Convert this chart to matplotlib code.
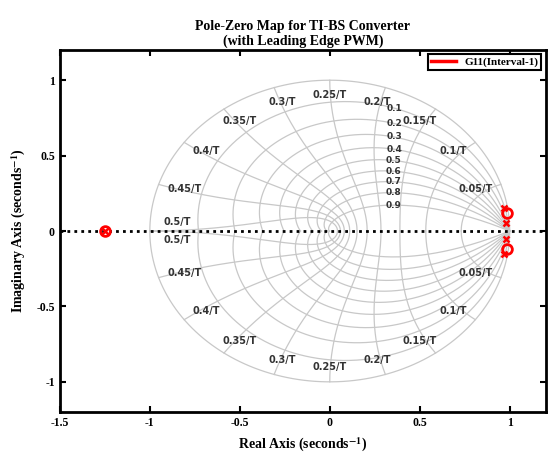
import numpy as np
import matplotlib.pyplot as plt
from matplotlib.lines import Line2D

# pole / zero locations
zero_re = [-1.25, 0.985, 0.985]
zero_im = [0.0, 0.12, -0.12]
pole_re = [-1.25, 0.97, 0.97, 0.98, 0.98]
pole_im = [0.0, 0.15, -0.15, 0.05, -0.05]

# zgrid settings
zetas = [0.1, 0.2, 0.3, 0.4, 0.5, 0.6, 0.7, 0.8, 0.9]
freqs = [0.05, 0.1, 0.15, 0.2, 0.25, 0.3, 0.35, 0.4, 0.45, 0.5]   # in 1/T

plt.rcParams['mathtext.fontset'] = 'stix'
serif = ['Liberation Serif', 'DejaVu Serif']
grid_col = '#c8c8c8'
lab_col = '#333333'

fig = plt.figure(figsize=(5.49, 4.55), dpi=100)
ax = fig.add_axes([0.109, 0.0945, 0.885, 0.7955])

# unit circle (zeta = 0)
th = np.linspace(0, 2 * np.pi, 400)
ax.plot(np.cos(th), np.sin(th), color=grid_col, lw=0.9, zorder=1)

# constant damping spirals
th = np.linspace(0, np.pi, 300)
for z in zetas:
    r = np.exp(-z / np.sqrt(1 - z ** 2) * th)
    x, y = r * np.cos(th), r * np.sin(th)
    ax.plot(x, y, color=grid_col, lw=0.9, zorder=1)
    ax.plot(x, -y, color=grid_col, lw=0.9, zorder=1)
    # label where the spiral crosses Re = 0.36
    i = np.argmax(x < 0.36)
    ax.text(x[i], y[i], f"{z:g}", fontsize=6.5, color=lab_col, fontweight='bold',
            ha='center', va='center', family='DejaVu Sans', zorder=3)

# constant natural frequency curves
zz = np.linspace(0, 1, 200)
for f in freqs:
    wn = 2 * np.pi * f
    r = np.exp(-zz * wn)
    ang = wn * np.sqrt(1 - zz ** 2)
    x, y = r * np.cos(ang), r * np.sin(ang)
    ax.plot(x, y, color=grid_col, lw=0.9, zorder=1)
    ax.plot(x, -y, color=grid_col, lw=0.9, zorder=1)
    lx = 0.85 * np.cos(wn)
    ly = max(0.9 * np.sin(wn), 0.06)
    for s in (1, -1):
        ax.text(lx, s * ly, f"{f:g}/T", fontsize=7, color=lab_col, fontweight='bold',
                ha='center', va='center', family='DejaVu Sans', zorder=3)

# real axis
ax.axhline(0, color='black', lw=2, ls=(0, (1, 1.5)), zorder=2)

# poles and zeros
ax.plot(zero_re, zero_im, 'o', ls='none', mfc='none', mec='red', ms=7, mew=2, zorder=4)
ax.plot(pole_re, pole_im, 'x', ls='none', color='red', ms=5, mew=1.8, zorder=4)

ax.set_xlim(-1.5, 1.2)
ax.set_ylim(-1.2, 1.2)
ax.set_xticks([-1.5, -1, -0.5, 0, 0.5, 1])
ax.set_xticklabels(['-1.5', '-1', '-0.5', '0', '0.5', '1'])
ax.set_yticks([-1, -0.5, 0, 0.5, 1])
ax.set_yticklabels(['-1', '-0.5', '0', '0.5', '1'])
ax.tick_params(direction='in', length=4, width=1.5, top=True, right=True, labelsize=8.5)
for lab in ax.get_xticklabels() + ax.get_yticklabels():
    lab.set_family(serif)
    lab.set_fontweight('bold')
for sp in ax.spines.values():
    sp.set_linewidth(2)

ax.set_xlabel('Real Axis (seconds$^{\\mathbf{-1}}$)', fontsize=10, fontweight='bold', family=serif, labelpad=5)
ax.set_ylabel('Imaginary Axis (seconds$^{\\mathbf{-1}}$)', fontsize=10, fontweight='bold', family=serif, labelpad=6)
ax.set_title('Pole-Zero Map for TI-BS Converter\n(with Leading Edge PWM)', fontsize=10,
             fontweight='bold', family=serif, pad=4, linespacing=1.1)

handle = Line2D([], [], color='red', lw=2.5)
leg = ax.legend([handle], ['G11(Interval-1)'], loc='upper right', fancybox=False,
                framealpha=1, edgecolor='black', handlelength=2.2, borderpad=0.25,
                borderaxespad=0.4, prop={'family': serif, 'weight': 'bold', 'size': 8})
leg.get_frame().set_linewidth(1.5)

fig.savefig('out.png', dpi=100)
